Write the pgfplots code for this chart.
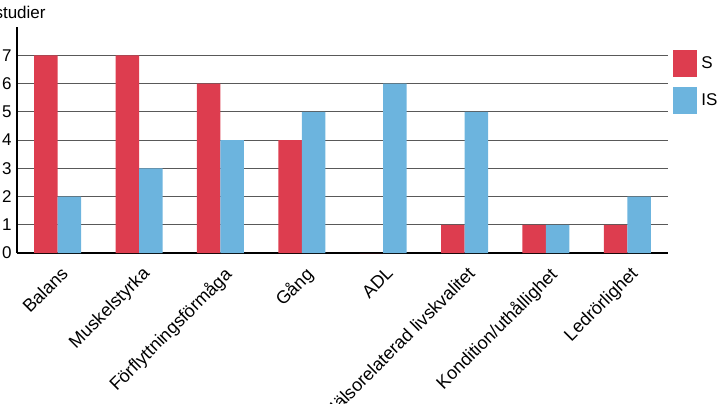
\documentclass[border=0pt]{standalone}
\usepackage{pgfplots}
\pgfplotsset{compat=1.18}
\usepackage{fontspec}
\setmainfont{Liberation Sans}
\definecolor{cS}{RGB}{221,61,79}
\definecolor{cIS}{RGB}{108,180,222}
\begin{document}
\begin{tikzpicture}[x=1pt,y=1pt]
\useasboundingbox (0,0) rectangle (362.5,201.5);
\clip (0,0) rectangle (362.5,201.5);
\begin{axis}[
  at={(8.5pt,75pt)}, anchor=south west,
  scale only axis, width=325.5pt, height=113pt,
  xmin=-0.5, xmax=7.5, ymin=0, ymax=8,
  axis lines*=left,
  axis line style={black, line width=0.8pt},
  ybar=0pt, bar width=11.75pt,
  ytick={0,1,...,7},
  ymajorgrids, grid style={black!65, line width=0.5pt},
  major tick length=0pt,
  xtick={0,...,7},
  xticklabels={Balans,Muskelstyrka,Förflyttningsförmåga,Gång,ADL,Hälsorelaterad livskvalitet,Kondition/uthållighet,Ledrörlighet},
  xticklabel style={rotate=45, anchor=north east, font=\fontsize{9}{11}\selectfont, inner sep=1pt, yshift=-4pt, xshift=-2.5pt},
  yticklabel style={font=\fontsize{8.5}{10}\selectfont, inner sep=1pt, xshift=-1.5pt},
  /pgf/number format/assume math mode=true,
  legend image code/.code={\fill[#1] (0pt,-6.75pt) rectangle (12pt,6.75pt);},
  legend style={draw=none, fill=none, at={(axis description cs:1,1)}, anchor=north west,
    xshift=2.5pt, yshift=-11.5pt, row sep=5pt, inner sep=0pt,
    font=\fontsize{8.5}{10}\selectfont, legend cell align=left},
]
\addplot[fill=cS, draw=none] coordinates {(0,7) (1,7) (2,6) (3,4) (4,0) (5,1) (6,1) (7,1)};
\addplot[fill=cIS, draw=none] coordinates {(0,2) (1,3) (2,4) (3,5) (4,6) (5,5) (6,1) (7,2)};
\legend{S,IS}
\end{axis}
\node[anchor=base east, inner sep=0pt, font=\fontsize{8.5}{10}\selectfont] at (23,192.5) {Antal studier};
\end{tikzpicture}
\end{document}
